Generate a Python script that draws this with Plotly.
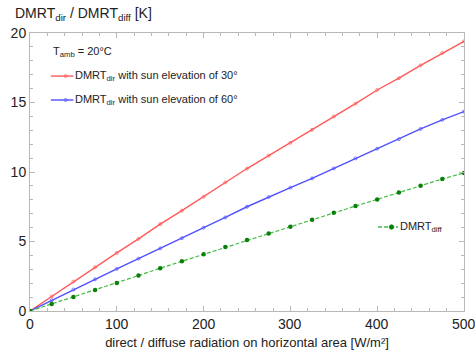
import plotly.graph_objects as go

radiation = [0, 25, 50, 75, 100, 125, 150, 175, 200, 225, 250, 275, 300, 325, 350, 375, 400, 425, 450, 475, 500]
dmrt_dir_30 = [0, 1.05, 2.12, 3.15, 4.18, 5.19, 6.25, 7.22, 8.22, 9.25, 10.25, 11.18, 12.1, 13.03, 13.99, 14.92, 15.9, 16.75, 17.67, 18.56, 19.4]
dmrt_dir_60 = [0, 0.77, 1.54, 2.28, 3.03, 3.77, 4.5, 5.24, 5.99, 6.73, 7.5, 8.2, 8.87, 9.54, 10.26, 10.98, 11.68, 12.36, 13.1, 13.75, 14.35]
dmrt_diff = [0, 0.5, 1.0, 1.51, 2.02, 2.55, 3.08, 3.58, 4.09, 4.6, 5.1, 5.58, 6.06, 6.56, 7.07, 7.55, 8.03, 8.53, 9.01, 9.5, 9.93]
x_ticks = [0, 100, 200, 300, 400, 500]
y_ticks = [0, 5, 10, 15, 20]

RED = "#ff5a5a"
BLUE = "#5050ff"
GREEN_L = "#44bb44"
GREEN_M = "#0a800a"
FONT = "Liberation Sans, Arial, sans-serif"
TXT = "#222222"

fig = go.Figure()
fig.add_trace(go.Scatter(x=radiation, y=dmrt_dir_30, mode="lines+markers",
                         line=dict(color=RED, width=1.4),
                         marker=dict(symbol="circle-open", size=3, color=RED, line=dict(width=0.7))))
fig.add_trace(go.Scatter(x=radiation, y=dmrt_dir_60, mode="lines+markers",
                         line=dict(color=BLUE, width=1.4),
                         marker=dict(symbol="circle-open", size=3, color=BLUE, line=dict(width=0.7))))
fig.add_trace(go.Scatter(x=radiation, y=dmrt_diff, mode="lines+markers",
                         line=dict(color=GREEN_L, width=1.2, dash="4px,2px"),
                         marker=dict(symbol="circle", size=4.5, color=GREEN_M)))

# custom legend samples
leg = [
    dict(x0=24, x1=50, y=16.9, color=RED, dash="solid", sym="circle-open", mc=RED, ms=3,
         text="DMRT<sub>dir</sub> with sun elevation of 30°"),
    dict(x0=24, x1=50, y=15.18, color=BLUE, dash="solid", sym="circle-open", mc=BLUE, ms=3,
         text="DMRT<sub>dir</sub> with sun elevation of 60°"),
    dict(x0=401, x1=424, y=6.04, color=GREEN_L, dash="4px,2px", sym="circle", mc=GREEN_M, ms=4.5,
         text="DMRT<sub>diff</sub>"),
]
for l in leg:
    fig.add_trace(go.Scatter(x=[l["x0"], (l["x0"] + l["x1"]) / 2, l["x1"]], y=[l["y"]] * 3,
                             mode="lines", line=dict(color=l["color"], width=1.4, dash=l["dash"]),
                             hoverinfo="skip"))
    fig.add_trace(go.Scatter(x=[(l["x0"] + l["x1"]) / 2 + 4], y=[l["y"]], mode="markers",
                             marker=dict(symbol=l["sym"], size=l["ms"], color=l["mc"],
                                         line=dict(width=0.7, color=l["mc"])),
                             hoverinfo="skip"))
    fig.add_annotation(x=l["x1"], y=l["y"], xref="x", yref="y", text=l["text"],
                       showarrow=False, xanchor="left", yanchor="middle",
                       font=dict(family=FONT, size=11, color=TXT))

fig.add_annotation(x=24, y=18.63, xref="x", yref="y", text="T<sub>amb</sub> = 20°C",
                   showarrow=False, xanchor="left", yanchor="middle",
                   font=dict(family=FONT, size=11, color=TXT))

plot_w, plot_h = 475 - 30 - 11, 359 - 33 - 48
fig.add_annotation(x=(13 - 30) / plot_w, y=1 + (33 - 14) / plot_h, xref="paper", yref="paper",
                   text="DMRT<sub>dir</sub> / DMRT<sub>diff</sub> [K]", showarrow=False,
                   xanchor="left", yanchor="middle", font=dict(family=FONT, size=14, color=TXT))

# x-axis tick labels drawn as annotations (the plotly label at the corner gets hidden)
for v in x_ticks:
    fig.add_annotation(x=v, y=-(324 - 311) / plot_h, xref="x", yref="paper", text=str(v),
                       showarrow=False, xanchor="center", yanchor="middle",
                       font=dict(family=FONT, size=14, color=TXT))

axis_common = dict(showline=True, linecolor="#b8b8b8", linewidth=1, mirror="allticks",
                   ticks="inside", ticklen=5, tickcolor="#b8b8b8", showgrid=False, zeroline=False,
                   ticklabeloverflow="allow", automargin=False,
                   tickfont=dict(family=FONT, size=14, color=TXT))

fig.update_layout(
    width=475, height=359,
    margin=dict(l=30, r=11, t=33, b=48),
    paper_bgcolor="white", plot_bgcolor="white",
    showlegend=False,
    xaxis=dict(range=[0, 500], tickvals=x_ticks, showticklabels=False,
               minor=dict(dtick=20, ticks="inside", ticklen=3, tickcolor="#b8b8b8"),
               title=dict(text="direct / diffuse radiation on horizontal area [W/m²]",
                          font=dict(family=FONT, size=13, color=TXT), standoff=26),
               **axis_common),
    yaxis=dict(range=[0, 20], tickvals=y_ticks, ticktext=[str(v) for v in y_ticks],
               minor=dict(dtick=1, ticks="inside", ticklen=3, tickcolor="#b8b8b8"),
               **axis_common),
)

fig.write_html("out.html")
